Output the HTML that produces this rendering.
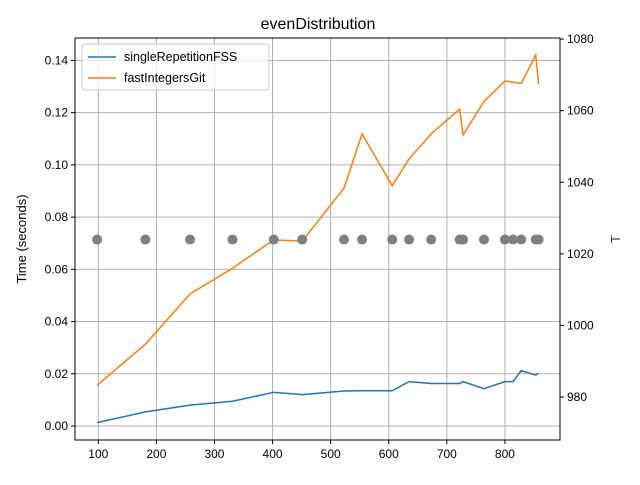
<!DOCTYPE html>
<html><head><meta charset="utf-8"><style>body{margin:0;background:#fff}svg{font-family:"Liberation Sans","DejaVu Sans",sans-serif}</style></head>
<body>
<svg id="c" width="640" height="480"></svg>
<script>
const xs=[98,181,258,331,402,451,523,554,606,635,673,722,728,764,800,814,828,853,858];
const fssVals=[0.0013,0.0054,0.0080,0.0095,0.0129,0.0120,0.0134,0.0135,0.0135,0.0170,0.0163,0.0163,0.0170,0.0143,0.0170,0.0170,0.0212,0.0195,0.0202];
const gitVals=[0.0156,0.0313,0.0506,0.0604,0.0713,0.0708,0.0911,0.1119,0.0920,0.1023,0.1119,0.1213,0.1115,0.1243,0.1321,0.1317,0.1312,0.1420,0.1310];
const tVals=[1024,1024,1024,1024,1024,1024,1024,1024,1024,1024,1024,1024,1024,1024,1024,1024,1024,1024,1024];
const xTicks=[100,200,300,400,500,600,700,800];
const yTicks=[0,0.02,0.04,0.06,0.08,0.10,0.12,0.14];
const rTicks=[980,1000,1020,1040,1060,1080];
const L=75,R=560,T=38,B=440;
const X=v=>L+(v-59.9)/(894.8-59.9)*(R-L);
const Y=v=>B-(v+0.00536)/(0.1486+0.00536)*(B-T);
const YR=v=>B-(v-968)/(1080.3-968)*(B-T);
const svg=document.getElementById('c');const NS='http://www.w3.org/2000/svg';
function el(t,a,txt){const e=document.createElementNS(NS,t);for(const k in a)e.setAttribute(k,a[k]);if(txt!==undefined)e.textContent=txt;svg.appendChild(e);return e;}
xTicks.forEach(v=>{const e=el('line',{x1:X(v),x2:X(v),y1:T,y2:B,stroke:'#b0b0b0','stroke-width':1});


el('line',{x1:X(v),x2:X(v),y1:B,y2:B+4,stroke:'#000'});
const t=el('text',{x:X(v),y:B+18,'font-size':12,'text-anchor':'middle'},String(v));

});
yTicks.forEach(v=>{const e=el('line',{x1:L,x2:R,y1:Y(v),y2:Y(v),stroke:'#b0b0b0','stroke-width':1});


el('line',{x1:L-4,x2:L,y1:Y(v),y2:Y(v),stroke:'#000'});
const t=el('text',{x:L-7,y:Y(v)+4,'font-size':12,'text-anchor':'end'},v.toFixed(2));

});
rTicks.forEach(v=>{el('line',{x1:R,x2:R+4,y1:YR(v),y2:YR(v),stroke:'#000'});
const t=el('text',{x:R+7,y:YR(v)+4,'font-size':12},String(v));

});
function line(vals,col,name){const p=el('polyline',{points:xs.map((x,i)=>X(x)+','+Y(vals[i])).join(' '),fill:'none',stroke:col,'stroke-width':1.5});

}
line(fssVals,'#1f77b4','single-repetition-fss-line');
line(gitVals,'#ff7f0e','fast-integers-git-line');
xs.forEach((x,i)=>{const c=el('circle',{cx:X(x),cy:YR(tVals[i]),r:5,fill:'#808080'});

});
const f=el('rect',{x:L,y:T,width:R-L,height:B-T,fill:'none',stroke:'#000','stroke-width':1});


</script>
<svg style="position:absolute;left:0;top:0" width="640" height="480" font-family="Liberation Sans, DejaVu Sans, sans-serif">
<text x="318" y="29" font-size="16" text-anchor="middle">evenDistribution</text>
<text x="26" y="239" font-size="13" text-anchor="middle" transform="rotate(-90 26 239)">Time (seconds)</text>
<text x="620" y="239" font-size="13" text-anchor="middle" transform="rotate(-90 620 239)" fill="#444">T</text>
<g>
<rect x="82" y="44" width="187" height="46" rx="3" fill="#fff" fill-opacity="0.8" stroke="#ccc"/>
<line x1="88" x2="116" y1="57" y2="57" stroke="#1f77b4" stroke-width="1.5"/>
<text x="124" y="61" font-size="12.5">singleRepetitionFSS</text>
<line x1="88" x2="116" y1="78" y2="78" stroke="#ff7f0e" stroke-width="1.5"/>
<text x="124" y="82" font-size="12.5">fastIntegersGit</text>
</g>
</svg>
</body></html>
